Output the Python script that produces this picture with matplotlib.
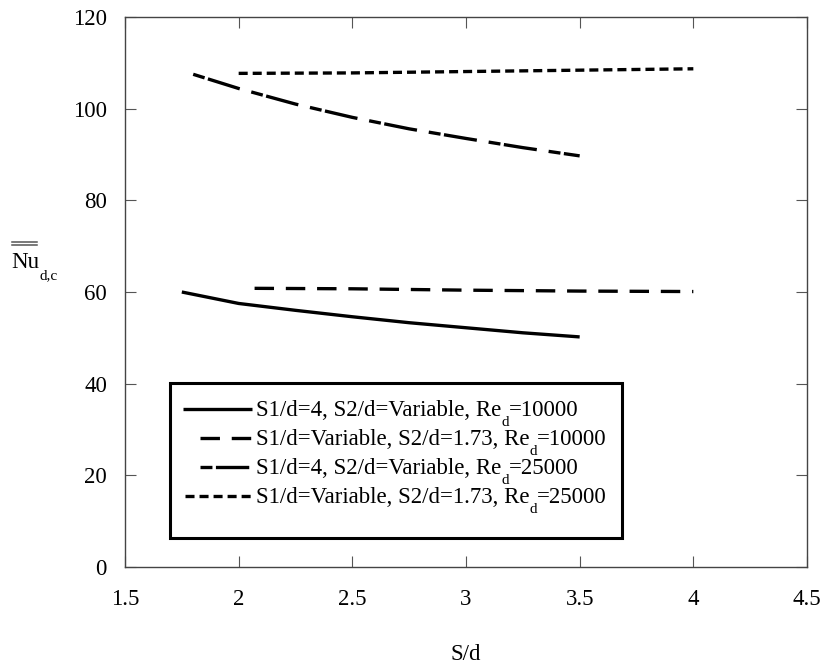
import matplotlib
matplotlib.use("Agg")
import matplotlib.pyplot as plt
from matplotlib.patches import Rectangle
from matplotlib.lines import Line2D

plt.rcParams['font.family'] = ['Liberation Serif', 'DejaVu Serif']
plt.rcParams['lines.scale_dashes'] = False

# Data
x_s1_re10k = [1.75, 2.0, 2.25, 2.5, 2.75, 3.0, 3.25, 3.5]
y_s1_re10k = [60.0, 57.5, 56.0, 54.6, 53.3, 52.2, 51.1, 50.2]

x_s2_re10k = [2.07, 2.5, 3.0, 3.5, 4.0]
y_s2_re10k = [60.8, 60.7, 60.4, 60.2, 60.1]

x_s1_re25k = [1.8, 2.0, 2.25, 2.5, 2.75, 3.0, 3.25, 3.5]
y_s1_re25k = [107.5, 104.4, 101.0, 98.1, 95.6, 93.5, 91.5, 89.7]

x_s2_re25k = [2.0, 2.5, 3.0, 3.5, 4.0]
y_s2_re25k = [107.7, 107.8, 108.1, 108.4, 108.7]

# legend labels: (text before subscript, subscript, text after)
labels = [
    ("S1/d=4, S2/d=Variable, Re", "d", "=10000"),
    ("S1/d=Variable, S2/d=1.73, Re", "d", "=10000"),
    ("S1/d=4, S2/d=Variable, Re", "d", "=25000"),
    ("S1/d=Variable, S2/d=1.73, Re", "d", "=25000"),
]
x_ticks = [1.5, 2, 2.5, 3, 3.5, 4, 4.5]
x_ticklabels = ["1.5", "2", "2.5", "3", "3.5", "4", "4.5"]
y_ticks = [0, 20, 40, 60, 80, 100, 120]

W, H = 821, 663
fig = plt.figure(figsize=(W / 100, H / 100), dpi=100)
L, R, T, B = 125, 807, 17, 567
ax = fig.add_axes([L / W, 1 - B / H, (R - L) / W, (B - T) / H])

FS = 16.5
lw = 2.4
styles = [
    dict(linestyle='-'),
    dict(dashes=(14, 8.5)),
    dict(dashes=(8.6, 2.5, 24, 8.6)),
    dict(dashes=(6.5, 3.6)),
]
series = [(x_s1_re10k, y_s1_re10k), (x_s2_re10k, y_s2_re10k),
          (x_s1_re25k, y_s1_re25k), (x_s2_re25k, y_s2_re25k)]
for (xs, ys), st in zip(series, styles):
    ax.plot(xs, ys, color='black', lw=lw, solid_capstyle='butt',
            dash_capstyle='butt', **st)

ax.set_xlim(1.5, 4.5)
ax.set_ylim(0, 120)
ax.set_xticks(x_ticks)
ax.set_xticklabels(x_ticklabels)
ax.set_yticks(y_ticks)
ax.tick_params(direction='in', length=8, width=0.8, color='#555555',
               top=True, right=True, labelsize=FS)
ax.tick_params(axis='x', pad=16)
ax.tick_params(axis='y', pad=13)
for sp in ax.spines.values():
    sp.set_linewidth(1.0)
    sp.set_color('#444444')

ax.set_xlabel("S/d", fontsize=FS, labelpad=24)

# y label: Nu with double overbar and subscript d,c
def fxy(px, py):
    return px / W, 1 - py / H

fig.text(*fxy(11, 268), "Nu", fontsize=FS, ha='left', va='baseline')
fig.text(*fxy(39, 279), "d,c", fontsize=11, ha='left', va='baseline')
for yy in (241.8, 245.2):
    xa, ya = fxy(12, yy)
    xb, _ = fxy(37, yy)
    fig.add_artist(Line2D([xa, xb], [ya, ya], color='#555555', lw=1.1,
                          transform=fig.transFigure))

# legend drawn manually
def ax_xy(px, py):
    return (px - L) / (R - L), (B - py) / (B - T)

x0, y0 = ax_xy(170, 538)
x1, y1 = ax_xy(622, 383)
ax.add_patch(Rectangle((x0, y0), x1 - x0, y1 - y0, transform=ax.transAxes,
                       fill=True, facecolor='white', edgecolor='black',
                       lw=2.2, zorder=5))
rows = [409, 438, 467, 496]
hstart = [183, 200, 200, 185]
renderer = fig.canvas.get_renderer()
for (pre, sub, post), st, py, hs in zip(labels, styles, rows, hstart):
    xa, ya = ax_xy(hs, py)
    xb, _ = ax_xy(252, py)
    ax.plot([xa, xb], [ya, ya], transform=ax.transAxes, color='black',
            lw=lw, solid_capstyle='butt', dash_capstyle='butt', zorder=6, **st)
    base_y = py + 7
    t1 = fig.text(*fxy(256, base_y), pre, fontsize=FS, ha='left',
                  va='baseline', zorder=6)
    e1 = t1.get_window_extent(renderer)
    t2 = fig.text(e1.x1 / W, (H - base_y - 10) / H, sub, fontsize=11,
                  ha='left', va='baseline', zorder=6)
    e2 = t2.get_window_extent(renderer)
    fig.text(e2.x1 / W, (H - base_y) / H, post, fontsize=FS, ha='left',
             va='baseline', zorder=6)

fig.savefig("out.png", dpi=100)
